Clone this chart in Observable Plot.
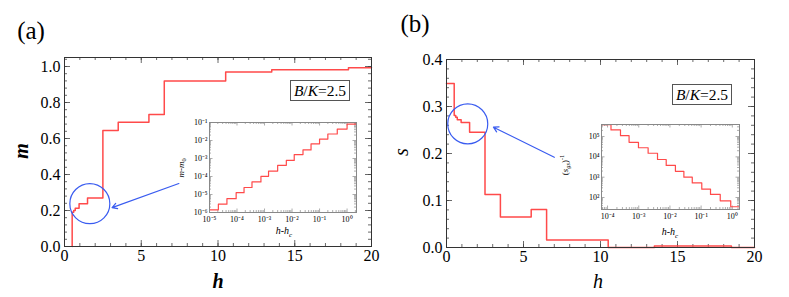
<!DOCTYPE html>
<html><head><meta charset="utf-8">
<script src="https://cdn.jsdelivr.net/npm/d3@7"></script>
<script src="https://cdn.jsdelivr.net/npm/@observablehq/plot@0.6"></script>
<style>
body{margin:0;background:#fff;}
#fig{position:relative;width:789px;height:297px;overflow:hidden;font-family:"Liberation Serif","Times New Roman",serif;background:#fff;color:#000;}
#fig svg, #fig svg text{font-family:"Liberation Serif","Times New Roman",serif !important;}
.lbl{position:absolute;white-space:nowrap;line-height:1;font-family:"Liberation Serif",serif;}
.rot{transform:translate(-50%,-50%) rotate(-90deg);}
.ctr{transform:translate(-50%,-50%);}
.box{position:absolute;border:1px solid #555;background:#fff;font-size:15.5px;text-align:center;box-sizing:border-box;}
sub,sup{font-size:70%;line-height:0;}
</style></head><body><div id="fig"></div>
<script>
// ---------- data ----------
// panel (a): magnetisation m vs field h (step function, value holds from h until next h)
const hA = [0.5, 0.5, 0.6, 0.7, 0.95, 1.5, 2.5, 3.5, 5.5, 6.5, 10.5, 13.5, 18.5, 20];
const mA = [0, 0.19, 0.2, 0.212, 0.238, 0.27, 0.645, 0.69, 0.733, 0.92, 0.97, 0.982, 0.993, 0.993];
// panel (b): s vs h
const hB = [0, 0.5, 0.6, 0.7, 0.95, 1.5, 2.5, 3.5, 5.5, 6.5, 10.5, 13.5, 18.5, 20];
const sB = [0.349, 0.281, 0.277, 0.272, 0.266, 0.245, 0.113, 0.065, 0.081, 0.016, 0, 0.003, 0, 0];
// inset (a): m - m0 vs h - hc (log-log staircase): step edges and levels
const insetAx = [1e-5, 2.1e-5, 4.3e-5, 9.3e-5, 1.8e-4, 3.5e-4, 7.4e-4, 1.4e-3, 3.0e-3, 6.2e-3, 1.2e-2, 2.5e-2, 4.9e-2, 0.10, 0.20, 0.44, 1.0, 2.1];
const insetAy = [1.4e-6, 2.9e-6, 5.9e-6, 1.26e-5, 2.45e-5, 5.0e-5, 1.02e-4, 2.0e-4, 4.2e-4, 7.8e-4, 1.66e-3, 3.0e-3, 6.5e-3, 1.2e-2, 2.3e-2, 4.3e-2, 8.1e-2];
// inset (b): (s_gs)^-1 vs h - hc
const insetBx = [6.6e-5, 1.29e-4, 2.6e-4, 4.9e-4, 9.8e-4, 2.0e-3, 4.0e-3, 7.6e-3, 1.5e-2, 2.8e-2, 5.2e-2, 0.105, 0.20, 0.41, 0.89, 1.7];
const insetBy = [3.85e5, 2.1e5, 1.1e5, 5.2e4, 2.8e4, 1.5e4, 7.4e3, 3.8e3, 1.95e3, 1.0e3, 520, 257, 141, 69, 35];
// tick labels
const xTicksMain = [0, 5, 10, 15, 20];
const yTicksA = [0, 0.2, 0.4, 0.6, 0.8, 1.0];
const yTicksB = [0, 0.1, 0.2, 0.3, 0.4];
const xTicksInsetA = [1e-5, 1e-4, 1e-3, 1e-2, 1e-1, 1];
const yTicksInsetA = [1e-6, 1e-5, 1e-4, 1e-3, 1e-2, 1e-1];
const xTicksInsetB = [1e-4, 1e-3, 1e-2, 1e-1, 1];
const yTicksInsetB = [1e2, 1e3, 1e4, 1e5];
// annotations (circle centre and arrow ends, in data units)
const circleA = [{h: 1.65, m: 0.238}];
const arrowA = [{h1: 7.45, m1: 0.35, h2: 3.1, m2: 0.216}];
const circleB = [{h: 1.38, s: 0.263}];
const arrowB = [{h1: 7.0, s1: 0.192, h2: 3.05, s2: 0.256}];

// ---------- helpers ----------
const RED = "#ff4a4a", BLUE = "#3a5cf0";
const SERIF = "'Liberation Serif', 'Times New Roman', serif";
const fig = document.getElementById("fig");
function place(el, left, top) { el.style.position = "absolute"; el.style.left = left + "px"; el.style.top = top + "px"; fig.append(el); }
function lerp(dom, type, t) { return type === "log" ? dom[0] * Math.pow(dom[1] / dom[0], t) : dom[0] + (dom[1] - dom[0]) * t; }
function range(a, b, step) { const out = []; for (let v = a; v <= b + 1e-9; v += step) out.push(+v.toFixed(6)); return out; }
function logMinor(dom) { const out = []; for (let e = -8; e <= 7; e++) for (let k = 2; k <= 9; k++) { const v = k * Math.pow(10, e); if (v > dom[0] && v < dom[1]) out.push(v); } return out; }
function inward({xDom, yDom, xType = "linear", yType = "linear", W, H, xMaj, xMin, yMaj, yMin, maj, min, stroke, sw}) {
  const marks = [];
  const xs = (vals, len) => {
    const t = len / H;
    marks.push(Plot.ruleX(vals, {x: d => d, y1: yDom[0], y2: lerp(yDom, yType, t), stroke, strokeWidth: sw}));
    marks.push(Plot.ruleX(vals, {x: d => d, y1: yDom[1], y2: lerp(yDom, yType, 1 - t), stroke, strokeWidth: sw}));
  };
  const ys = (vals, len) => {
    const t = len / W;
    marks.push(Plot.ruleY(vals, {y: d => d, x1: xDom[0], x2: lerp(xDom, xType, t), stroke, strokeWidth: sw}));
    marks.push(Plot.ruleY(vals, {y: d => d, x1: xDom[1], x2: lerp(xDom, xType, 1 - t), stroke, strokeWidth: sw}));
  };
  xs(xMin, min); xs(xMaj, maj); ys(yMin, min); ys(yMaj, maj);
  return marks;
}
const supMap = {"-": "\u207B", "0": "\u2070", "1": "\u00B9", "2": "\u00B2", "3": "\u00B3", "4": "\u2074", "5": "\u2075", "6": "\u2076", "7": "\u2077", "8": "\u2078", "9": "\u2079"};
const pow10 = d => "10" + String(Math.round(Math.log10(d))).split("").map(c => supMap[c]).join("");
function stepData(xs, ys) { const pts = ys.map((y, i) => ({x: xs[i], y})); pts.push({x: xs[xs.length - 1], y: ys[ys.length - 1]}); return pts; }

// ---------- panel (a) ----------
{
  const W = 307, H = 189, xDom = [0, 20], yDom = [0, 1.05];
  const svg = Plot.plot({
    width: 395, height: 297, marginLeft: 64, marginRight: 24, marginTop: 57, marginBottom: 51,
    style: {fontFamily: SERIF, fontSize: "16px", background: "transparent", color: "#000"},
    x: {domain: xDom}, y: {domain: yDom},
    marks: [
      ...inward({xDom, yDom, W, H, xMaj: xTicksMain, xMin: range(0, 20, 1), yMaj: yTicksA, yMin: range(0, 1.04, 0.04), maj: 6, min: 3, stroke: "#444", sw: 0.8}),
      Plot.line(hA.map((h, i) => ({h, m: mA[i]})), {x: "h", y: "m", curve: "step-after", stroke: RED, strokeWidth: 1.5}),
      Plot.frame({stroke: "#333", strokeWidth: 1}),
      Plot.axisX({ticks: xTicksMain, tickSize: 0, tickPadding: 3, label: null, tickFormat: d3.format("d"), fontFamily: SERIF}),
      Plot.axisY({ticks: yTicksA, tickSize: 0, tickPadding: 4, label: null, tickFormat: d3.format(".1f"), fontFamily: SERIF}),
      Plot.dot(circleA, {x: "h", y: "m", r: 20, stroke: BLUE, fill: "none", strokeWidth: 1.2}),
      Plot.arrow(arrowA, {x1: "h1", y1: "m1", x2: "h2", y2: "m2", stroke: BLUE, strokeWidth: 1.2, headLength: 7})
    ]
  });
  place(svg, 0, 0);
}
// ---------- panel (b) ----------
{
  const W = 308, H = 188, xDom = [0, 20], yDom = [0, 0.4];
  const svg = Plot.plot({
    width: 395, height: 297, marginLeft: 52, marginRight: 35, marginTop: 59, marginBottom: 50,
    style: {fontFamily: SERIF, fontSize: "16px", background: "transparent", color: "#000"},
    x: {domain: xDom}, y: {domain: yDom},
    marks: [
      ...inward({xDom, yDom, W, H, xMaj: xTicksMain, xMin: range(0, 20, 1), yMaj: yTicksB, yMin: range(0, 0.4, 0.02), maj: 6, min: 3, stroke: "#444", sw: 0.8}),
      Plot.line(hB.map((h, i) => ({h, s: sB[i]})), {x: "h", y: "s", curve: "step-after", stroke: RED, strokeWidth: 1.5}),
      Plot.frame({stroke: "#333", strokeWidth: 1}),
      Plot.axisX({ticks: xTicksMain, tickSize: 0, tickPadding: 3, label: null, tickFormat: d3.format("d"), fontFamily: SERIF}),
      Plot.axisY({ticks: yTicksB, tickSize: 0, tickPadding: 4, label: null, tickFormat: d3.format(".1f"), fontFamily: SERIF}),
      Plot.dot(circleB, {x: "h", y: "s", r: 20, stroke: BLUE, fill: "none", strokeWidth: 1.2}),
      Plot.arrow(arrowB, {x1: "h1", y1: "s1", x2: "h2", y2: "s2", stroke: BLUE, strokeWidth: 1.2, headLength: 7})
    ]
  });
  place(svg, 394, 0);
}
// ---------- inset (a) ----------
{
  const W = 147, H = 90, xDom = [1e-5, 2.2], yDom = [1e-6, 1e-1];
  const svg = Plot.plot({
    width: 200, height: 132, marginLeft: 41, marginRight: 12, marginTop: 10, marginBottom: 32,
    style: {fontFamily: SERIF, fontSize: "8px", background: "transparent", color: "#000"},
    x: {type: "log", domain: xDom}, y: {type: "log", domain: yDom},
    marks: [
      Plot.frame({fill: "white", stroke: "none"}),
      ...inward({xDom, yDom, xType: "log", yType: "log", W, H, xMaj: xTicksInsetA, xMin: logMinor(xDom), yMaj: yTicksInsetA, yMin: logMinor(yDom), maj: 3.5, min: 2, stroke: "#777", sw: 0.6}),
      Plot.line(stepData(insetAx, insetAy), {x: "x", y: "y", curve: "step-after", stroke: RED, strokeWidth: 1.2}),
      Plot.frame({stroke: "#888", strokeWidth: 1}),
      Plot.axisX({ticks: xTicksInsetA, tickSize: 0, tickPadding: 4, label: null, tickFormat: pow10, fontFamily: SERIF}),
      Plot.axisY({ticks: yTicksInsetA, tickSize: 0, tickPadding: 2, label: null, tickFormat: pow10, fontFamily: SERIF})
    ]
  });
  place(svg, 168, 112);
}
// ---------- inset (b) ----------
{
  const W = 138, H = 85, xDom = [6.4e-5, 1.7], yDom = [25.7, 3.9e5];
  const svg = Plot.plot({
    width: 175, height: 130, marginLeft: 26, marginRight: 11, marginTop: 10, marginBottom: 35,
    style: {fontFamily: SERIF, fontSize: "8px", background: "transparent", color: "#000"},
    x: {type: "log", domain: xDom}, y: {type: "log", domain: yDom},
    marks: [
      Plot.frame({fill: "white", stroke: "none"}),
      ...inward({xDom, yDom, xType: "log", yType: "log", W, H, xMaj: xTicksInsetB, xMin: logMinor(xDom), yMaj: yTicksInsetB, yMin: logMinor(yDom), maj: 3.5, min: 2, stroke: "#777", sw: 0.6}),
      Plot.line(stepData(insetBx, insetBy), {x: "x", y: "y", curve: "step-after", stroke: RED, strokeWidth: 1.2}),
      Plot.frame({stroke: "#888", strokeWidth: 1}),
      Plot.axisX({ticks: xTicksInsetB, tickSize: 0, tickPadding: 4, label: null, tickFormat: pow10, fontFamily: SERIF}),
      Plot.axisY({ticks: yTicksInsetB, tickSize: 0, tickPadding: 2, label: null, tickFormat: pow10, fontFamily: SERIF})
    ]
  });
  place(svg, 575, 114);
}
// ---------- text ----------
function label(html, x, y, css, cls) {
  const d = document.createElement("div");
  d.className = "lbl " + (cls || "");
  d.innerHTML = html;
  d.style.left = x + "px"; d.style.top = y + "px";
  Object.assign(d.style, css || {});
  fig.append(d);
}
label("(a)", 31, 30, {fontSize: "25px"}, "ctr");
label("(b)", 415, 23, {fontSize: "25px"}, "ctr");
label("m", 21, 151, {fontSize: "20px", fontStyle: "italic", fontWeight: "bold"}, "rot");
label("h", 218, 281, {fontSize: "20px", fontStyle: "italic", fontWeight: "bold"}, "ctr");
label("s", 401, 152, {fontSize: "20px", fontStyle: "italic"}, "rot");
label("h", 598, 281, {fontSize: "20px", fontStyle: "italic"}, "ctr");
label("<i>m</i>-<i>m</i><sub>0</sub>", 181, 168, {fontSize: "9px"}, "rot");
label("<i>h</i>-<i>h</i><sub><i>c</i></sub>", 284, 231, {fontSize: "10px"}, "ctr");
label("(<i>s</i><sub><i>gs</i></sub>)<sup>-1</sup>", 565, 165, {fontSize: "9px"}, "rot");
label("<i>h</i>-<i>h</i><sub><i>c</i></sub>", 670, 232, {fontSize: "10px"}, "ctr");
function box(x, y) {
  const d = document.createElement("div");
  d.className = "box";
  d.innerHTML = "<i>B</i>/<i>K</i>=2.5";
  Object.assign(d.style, {left: x + "px", top: y + "px", width: "60px", height: "21px", lineHeight: "19px"});
  fig.append(d);
}
box(290, 80);
box(672, 84);
</script></body></html>
